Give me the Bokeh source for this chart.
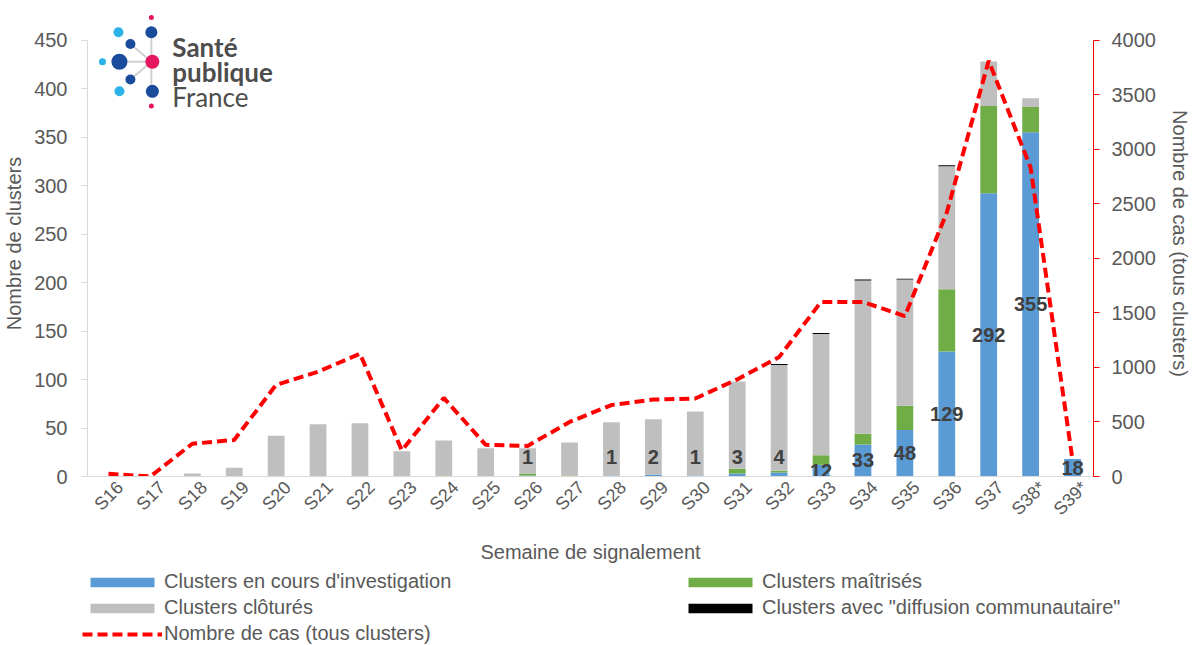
import math
from bokeh.plotting import figure
from bokeh.models import (Range1d, LinearAxis, FixedTicker, ColumnDataSource,
                          Legend, LegendItem)
from bokeh.core.properties import value
from bokeh.embed import file_html
from bokeh.resources import INLINE

# ---------------- data ----------------
weeks = ["S16", "S17", "S18", "S19", "S20", "S21", "S22", "S23", "S24", "S25", "S26", "S27",
         "S28", "S29", "S30", "S31", "S32", "S33", "S34", "S35", "S36", "S37", "S38*", "S39*"]
investigation = [0, 0, 0, 0, 0, 0, 0, 0, 0, 0, 1, 0, 1, 2, 1, 3, 4, 12, 33, 48, 129, 292, 355, 18]
maitrises = [0, 0, 0, 0, 0, 0, 0, 0, 1, 0, 2, 1, 0, 0, 0, 5, 2, 10, 11, 25, 64, 90, 26, 0]
clotures = [0, 0, 3, 9, 42, 54, 55, 26, 36, 29, 26, 34, 55, 57, 66, 90, 109, 125, 158, 130, 127, 46, 9, 0]
diffusion = [0, 0, 0, 0, 0, 0, 0, 0, 0, 0, 0, 0, 0, 0, 0, 0, 1, 1, 1, 1, 1, 0, 0, 0]
cas = [25, 0, 300, 335, 840, 960, 1125, 240, 720, 290, 280, 500, 655, 705, 715, 890, 1095,
       1600, 1600, 1470, 2420, 3810, 2830, 150]
left_ticks = [0, 50, 100, 150, 200, 250, 300, 350, 400, 450]
right_ticks = [0, 500, 1000, 1500, 2000, 2500, 3000, 3500, 4000]

series_labels = ["Clusters en cours d'investigation", "Clusters maîtrisés",
                 "Clusters clôturés", "Clusters avec \"diffusion communautaire\""]
line_label = "Nombre de cas (tous clusters)"

# ---------------- layout ----------------
W, H_TOP, H_LEG = 1193, 566, 79
FL, FR, FT, FB = 87, 1095, 10, 483
frame_h = FB - FT
axis_px = 443.0
left_end = 450 * frame_h / axis_px
right_end = 4000 * frame_h / axis_px

FONT = "Liberation Sans"
GREY_TXT = "#595959"
AX_GREY = "#D9D9D9"
BLUE, GREEN, GREY, BLACK, RED = "#5B9BD5", "#70AD47", "#BFBFBF", "#000000", "#FF0000"

xpos = [i + 0.5 for i in range(len(weeks))]
label_shift = 0.28

p = figure(width=W, height=H_TOP, x_range=Range1d(0, len(weeks)),
           y_range=Range1d(0, left_end), output_backend="svg", toolbar_location=None,
           min_border_left=FL, min_border_right=W - FR, min_border_top=FT,
           min_border_bottom=H_TOP - FB, outline_line_color=None)
p.xgrid.visible = False
p.ygrid.visible = False

p.extra_y_ranges = {"cas": Range1d(0, right_end), "ly": Range1d(FB, FT)}
p.extra_x_ranges = {"lx": Range1d(FL, FR)}

# left axis
ya = p.yaxis[0]
ya.ticker = FixedTicker(ticks=left_ticks)
ya.bounds = (0, 450)
ya.axis_line_color = AX_GREY
ya.major_tick_line_color = AX_GREY
ya.major_tick_in = 0
ya.major_tick_out = 6
ya.minor_tick_line_color = None
ya.major_label_text_font = FONT
ya.major_label_text_font_size = "20px"
ya.major_label_text_color = GREY_TXT
ya.major_label_standoff = 14
ya.axis_label = "Nombre de clusters"
ya.axis_label_text_font = FONT
ya.axis_label_text_font_size = "20px"
ya.axis_label_text_font_style = "normal"
ya.axis_label_text_color = GREY_TXT
ya.axis_label_standoff = 6

# right axis
ra = LinearAxis(y_range_name="cas", ticker=FixedTicker(ticks=right_ticks), bounds=(0, 4000),
                axis_line_color=RED, major_tick_line_color=RED, major_tick_in=0,
                major_tick_out=6, minor_tick_line_color=None,
                major_label_text_font=FONT, major_label_text_font_size="20px",
                major_label_text_color=GREY_TXT, major_label_standoff=12,
                axis_label=line_label, axis_label_text_font=FONT,
                axis_label_text_font_size="20px", axis_label_text_font_style="normal",
                axis_label_text_color=GREY_TXT, axis_label_standoff=10)
p.add_layout(ra, "right")

# x axis
xa = p.xaxis[0]
tick_x = [x + label_shift for x in xpos]
xa.ticker = FixedTicker(ticks=tick_x)
xa.major_label_overrides = {x: w for x, w in zip(tick_x, weeks)}
xa.axis_line_color = AX_GREY
xa.major_tick_line_color = None
xa.minor_tick_line_color = None
xa.major_label_orientation = math.pi / 4
xa.major_label_text_font = FONT
xa.major_label_text_font_size = "18px"
xa.major_label_text_color = GREY_TXT
xa.major_label_standoff = 2
xa.axis_label = "Semaine de signalement"
xa.axis_label_text_font = FONT
xa.axis_label_text_font_size = "20px"
xa.axis_label_text_font_style = "normal"
xa.axis_label_text_color = GREY_TXT
xa.axis_label_standoff = 12

# ---------------- glyphs ----------------
src = ColumnDataSource(dict(x=xpos, week=weeks, inv=investigation, mai=maitrises, clo=clotures,
                            dif=diffusion, cas=cas))
bars = p.vbar_stack(["inv", "mai", "clo", "dif"], x="x", width=0.4,
                    fill_color=[BLUE, GREEN, GREY, BLACK], line_color=None, source=src)
ln = p.line("x", "cas", source=src, y_range_name="cas", line_color=RED, line_width=4,
            line_dash="10 5")

lab_x = [x for x, v in zip(xpos, investigation) if v > 0]
lab_v = [v for v in investigation if v > 0]
lab_y = [v / 2 if v >= 10 else 20 for v in lab_v]
lsrc = ColumnDataSource(dict(x=lab_x, y=lab_y, t=[str(v) for v in lab_v]))
p.text("x", "y", text="t", source=lsrc, text_align="center", text_baseline="middle",
       text_font=value(FONT), text_font_style="bold", text_font_size="20px",
       text_color="#404040")

# ---------------- logo (page pixel coords) ----------------
NAVY, PINK, LBLUE = "#1B4B9B", "#E5165F", "#2BB2E8"
p.segment(x0=[151, 151, 151, 151], y0=[32, 62, 62, 62], x1=[151, 119, 130, 130],
          y1=[92, 62, 44, 80], x_range_name="lx", y_range_name="ly",
          line_color="#D0D0D0", line_width=2)
p.scatter(x=[151, 151, 118, 130, 102, 119, 152, 130, 119, 152, 151],
          y=[17, 32, 32, 44, 62, 62, 62, 80, 92, 92, 107],
          size=[5, 12, 10, 10, 7, 16, 14, 10, 10, 13, 5],
          color=[PINK, NAVY, LBLUE, NAVY, LBLUE, NAVY, PINK, NAVY, LBLUE, NAVY, PINK],
          x_range_name="lx", y_range_name="ly", line_color=None)
p.text(x=[172, 172], y=[47, 72], text=["Santé", "publique"], x_range_name="lx",
       y_range_name="ly", text_font=value("Lato"), text_font_style="bold",
       text_font_size="26px", text_color="#4D4D4D", text_baseline="alphabetic")
p.text(x=[172], y=[98], text=["France"], x_range_name="lx", y_range_name="ly",
       text_font=value("Lato"), text_font_size="26px", text_color="#4D4D4D",
       text_baseline="alphabetic")

# ---------------- legend strip (separate root, no frame alignment) ----------------
lf = figure(width=W, height=H_LEG, x_range=Range1d(0, 1), y_range=Range1d(0, 1),
            output_backend="svg", toolbar_location=None, x_axis_location=None,
            y_axis_location=None, min_border=0, outline_line_color=None)
lf.xgrid.visible = False
lf.ygrid.visible = False
sw = [lf.vbar(x=[-5], top=[-5], width=0.4, fill_color=c, line_color=None)
      for c in (BLUE, GREEN, GREY, BLACK)]
sl = lf.line(x=[-5, -4], y=[-5, -5], line_color=RED, line_width=4, line_dash="10 5")

common = dict(padding=0, margin=0, spacing=3, glyph_width=80, glyph_height=12,
              label_height=20, label_standoff=2, border_line_color=None,
              background_fill_alpha=0, label_text_font=FONT, label_text_font_size="20px",
              label_text_color=GREY_TXT)
leg1 = Legend(items=[LegendItem(label=series_labels[0], renderers=[sw[0]]),
                     LegendItem(label=series_labels[2], renderers=[sw[2]]),
                     LegendItem(label=line_label, renderers=[sl])],
              location=(82, 0), **common)
leg2 = Legend(items=[LegendItem(label=series_labels[1], renderers=[sw[1]]),
                     LegendItem(label=series_labels[3], renderers=[sw[3]])],
              location=(680, 26), **common)
lf.add_layout(leg1, "center")
lf.add_layout(leg2, "center")

open("out.html", "w").write(file_html([p, lf], INLINE))
